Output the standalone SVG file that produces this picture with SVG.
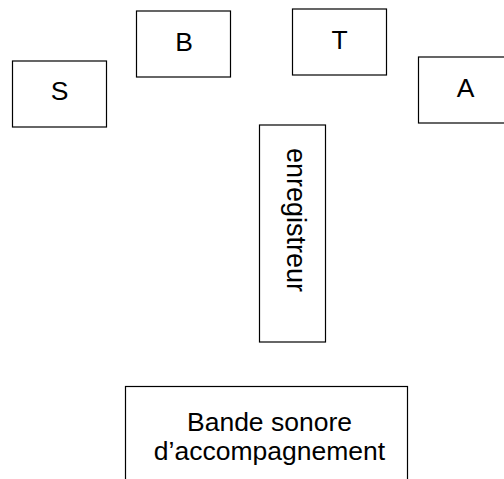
<svg xmlns="http://www.w3.org/2000/svg" width="504" height="479" viewBox="0 0 504 479">
<style>
.box{fill:#fff;stroke:#000;stroke-width:1.2}
text{font-family:"Liberation Sans",Arial,sans-serif;font-size:26.5px;fill:#000;text-anchor:middle}
</style>
<rect width="504" height="479" fill="#fff"/>
<g id="connectors"/>
<g id="S"><rect class="box" x="12.5" y="61" width="94" height="66"/><text x="59.5" y="99.5">S</text></g>
<g id="B"><rect class="box" x="136.5" y="11" width="94" height="66"/><text x="184" y="51">B</text></g>
<g id="T"><rect class="box" x="292.5" y="9" width="94" height="66"/><text x="339.5" y="48.5">T</text></g>
<g id="A"><rect class="box" x="418.5" y="57" width="94" height="66"/><text x="465.5" y="96.5">A</text></g>
<g id="enregistreur"><rect class="box" x="259.5" y="125" width="66" height="217"/><text transform="translate(287,220) rotate(90)" style="font-size:27px">enregistreur</text></g>
<g id="bande"><rect class="box" x="125.5" y="386.5" width="282" height="110"/><text x="269.5" y="431">Bande sonore</text><text x="269.5" y="460">d’accompagnement</text></g>
</svg>
